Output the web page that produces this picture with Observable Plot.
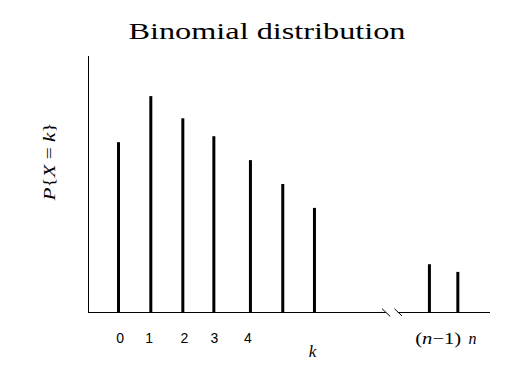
<!DOCTYPE html>
<html>
<head>
<meta charset="utf-8">
<script src="https://cdn.jsdelivr.net/npm/d3@7"></script>
<script src="https://cdn.jsdelivr.net/npm/@observablehq/plot@0.6"></script>
<style>
  html, body { margin: 0; padding: 0; background: white; }
</style>
</head>
<body>
<div id="chart"></div>
<script>
// Bar positions along k (break after 6) and probabilities
const barLabels = ["0", "1", "2", "3", "4", "5", "6", "n-1", "n"];
const barPositions = [0, 0.99, 1.97, 2.92, 4.04, 5.03, 6, 9.52, 10.39];
const barValues = [0.199, 0.253, 0.227, 0.206, 0.178, 0.150, 0.122, 0.056, 0.047];

// Tick labels along the x axis
const tickLabels = ["0", "1", "2", "3", "4", "(n−1)", "n"];
const tickPositions = [0.05, 0.94, 2.02, 2.94, 3.96, 9.79, 10.84];

const xDomain = [-0.918, 11.39];
const yDomain = [0, 0.3];
const axisSegments = [{x1: -0.918, x2: 8.2}, {x1: 8.57, x2: 11.39}];
const breakMarks = [
  {x1: 8.07, y1: 0.0044, x2: 8.32, y2: -0.0046},
  {x1: 8.45, y1: 0.0044, x2: 8.68, y2: -0.0040}
];

const bars = barLabels.map((k, i) => ({k, pos: barPositions[i], p: barValues[i]}));
const ticks = tickLabels.map((t, i) => ({t, pos: tickPositions[i]}));

const serif = "'Liberation Serif', 'Times New Roman', serif";
const sans = "'Liberation Sans', Arial, sans-serif";

const plot = Plot.plot({
  width: 519,
  height: 389,
  margin: 0,
  style: {background: "white", fontFamily: serif, color: "black"},
  x: {domain: xDomain, range: [88, 490], axis: null},
  y: {domain: yDomain, range: [312, 56], axis: null},
  marks: [
    Plot.ruleX([xDomain[0]], {y1: 0, y2: yDomain[1], stroke: "black", strokeWidth: 1}),
    Plot.ruleY(axisSegments, {y: 0, x1: "x1", x2: "x2", stroke: "black", strokeWidth: 1}),
    Plot.link(breakMarks, {x1: "x1", y1: "y1", x2: "x2", y2: "y2", stroke: "black", strokeWidth: 1}),
    Plot.ruleX(bars, {x: "pos", y1: 0, y2: "p", stroke: "black", strokeWidth: 3}),
    Plot.text(ticks.slice(0, 5), {x: "pos", y: 0, text: "t", dy: 26, fontSize: 14,
      fontFamily: sans, fill: "black"}),
    Plot.text(ticks.slice(5), {x: "pos", y: 0, text: "t", dy: 26, fontSize: 16,
      fontFamily: serif, fill: "black"}),
    Plot.text(["k"], {frameAnchor: "top-left", dx: 312, dy: 351, textAnchor: "middle",
      lineAnchor: "middle", fontSize: 17, fontFamily: serif, fontStyle: "italic", fill: "black"}),
    Plot.text(["P{X = k}"], {frameAnchor: "top-left", dx: 49, dy: 161, rotate: -90,
      textAnchor: "middle", lineAnchor: "middle", fontSize: 16, fontFamily: serif, fill: "black"}),
    Plot.text(["Binomial distribution"], {frameAnchor: "top-left", dx: 266.5, dy: 31,
      textAnchor: "middle", lineAnchor: "middle", fontSize: 24, fontFamily: serif, fill: "black"})
  ]
});

// Italicize math variables with tspans (text stays real text); widen like the reference
function italicize(textEl, parts) {
  textEl.textContent = "";
  for (const [s, it] of parts) {
    const ts = document.createElementNS("http://www.w3.org/2000/svg", "tspan");
    ts.textContent = s;
    if (it) ts.setAttribute("font-style", "italic");
    textEl.appendChild(ts);
  }
}
function stretch(el, len) {
  el.setAttribute("textLength", len);
  el.setAttribute("lengthAdjust", "spacingAndGlyphs");
}
plot.querySelectorAll("text").forEach(el => {
  const s = el.textContent;
  if (s === "(n−1)") { italicize(el, [["(", false], ["n", true], ["−1)", false]]); stretch(el, 46); }
  else if (s === "n") italicize(el, [["n", true]]);
  else if (s === "P{X = k}") {
    italicize(el, [["P", true], ["{", false], ["X", true], [" = ", false], ["k", true], ["}", false]]);
    stretch(el, 78);
  }
  else if (s === "Binomial distribution") stretch(el, 277);
});

document.getElementById("chart").appendChild(plot);
</script>
</body>
</html>
